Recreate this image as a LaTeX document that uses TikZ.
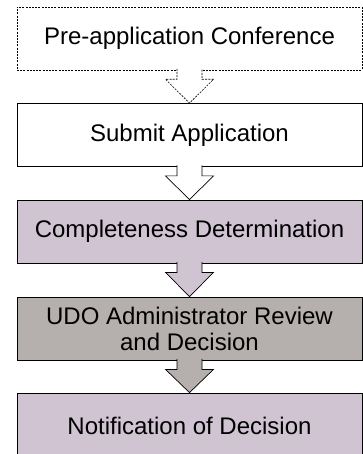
\documentclass[tikz,border=0pt]{standalone}
\usepackage{fontspec}
\setmainfont{Liberation Sans}
\usetikzlibrary{calc}
\definecolor{lav}{HTML}{D0C4D3}
\definecolor{greybox}{HTML}{B5AFAD}
\tikzset{
  box/.style={draw=black, line width=0.8pt, minimum width=345pt, minimum height=63pt,
    inner sep=0pt, align=center, font=\fontsize{24}{26}\selectfont, text=black},
  flow/.style={draw=black, line width=0.7pt, line join=miter},
}
\newcommand{\flowarrow}[3]{%
  \filldraw[flow,#3] ($(#1.south)+(-12.5,-1.5)$) -- ($(#1.south)+(-12.5,9)$) -- ($(#1.south)+(-24,9)$)
    -- (#2.north) -- ($(#1.south)+(24,9)$) -- ($(#1.south)+(12.5,9)$) -- ($(#1.south)+(12.5,-1.5)$);}
\begin{document}
\begin{tikzpicture}[x=1pt,y=-1pt]
\useasboundingbox[fill=white] (0,0) rectangle (363,454);
\node[box, dash pattern=on 2pt off 1.2pt, line width=0.6pt] (pre) at (189.5,38.5) {Pre-application Conference};
\node[box, fill=white] (sub) at (189.5,135) {Submit Application};
\node[box, fill=lav] (comp) at (189.5,231.5) {Completeness Determination};
\node[box, fill=greybox] (udo) at (189.5,328.5) {UDO Administrator Review\\and Decision};
\node[box, fill=lav, minimum height=66pt] (note) at (189.5,426) {Notification of Decision};
\flowarrow{pre}{sub}{fill=white, dash pattern=on 2pt off 1.2pt, line width=0.6pt}
\flowarrow{sub}{comp}{fill=white}
\flowarrow{comp}{udo}{fill=lav}
\flowarrow{udo}{note}{fill=greybox}
\end{tikzpicture}
\end{document}
